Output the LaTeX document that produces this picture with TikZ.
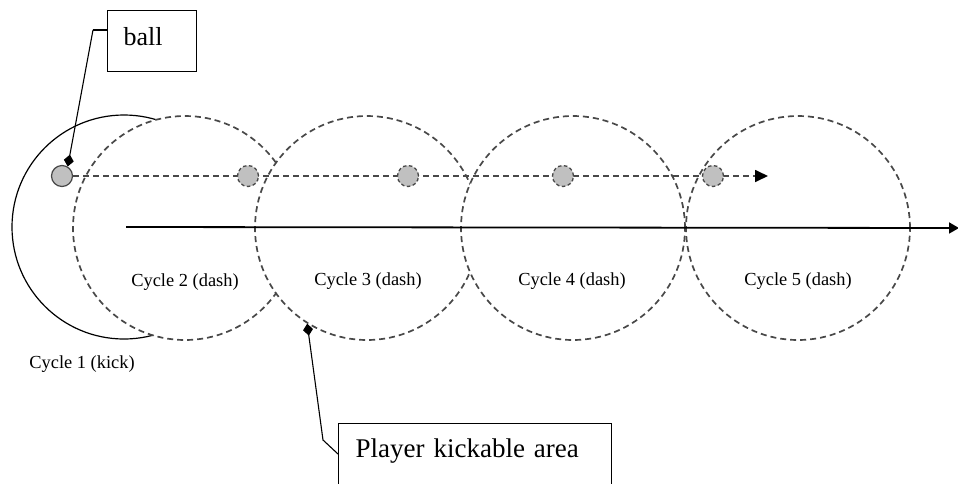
\documentclass[tikz,border=0pt]{standalone}
\usepackage{fontspec}
\setmainfont{Liberation Serif}
\usetikzlibrary{arrows.meta,calc}
\definecolor{dgray}{HTML}{484848}
\definecolor{ballgray}{HTML}{C0C0C0}
\begin{document}
\begin{tikzpicture}[x=1pt,y=-1pt,
  area/.style={circle, minimum size=224pt, inner sep=0pt, fill=white},
  dashline/.style={draw=dgray, line width=1.7pt, dash pattern=on 6pt off 4pt},
  ballnode/.style={circle, minimum size=21pt, inner sep=0pt, fill=ballgray},
  balldash/.style={draw=dgray, line width=1.3pt, dash pattern=on 3.5pt off 2.5pt},
  cyclelabel/.style={font=\fontsize{18.4}{20}\selectfont, anchor=base, inner sep=1pt},
  calloutbox/.style={draw, line width=1.1pt, fill=white, anchor=north west, align=left},
  callout/.style={draw, line width=1.1pt, -{Diamond[length=12pt,width=10pt]}}
]
\path (0,0) rectangle (958,483);
\clip (0,0) rectangle (958,483);

% kickable areas
\node[area, draw=black, line width=1.2pt] (c1) at (124,227) {};
\node[area, dashline] (c2) at (185,228) {};
\node[area, dashline] (c3) at (367,228) {};
\node[area, dashline] (c4) at (573,228) {};
\node[area, dashline] (c5) at (798,228) {};

% player movement axis
\coordinate (axisend) at (959,228);
\draw[line width=1.8pt, -{Triangle[length=10pt,width=11pt]}] ([xshift=2pt]c1.center) -- (axisend);

% ball trajectory
\node[ballnode, draw=dgray, line width=1.2pt] (b1) at (62,176) {};
\coordinate (trajend) at (768,176);
\draw[dashline, -{Triangle[length=13pt,width=12pt,color=black]}] (b1.east) -- (trajend);
\node[ballnode, balldash] (b2) at (248,176) {};
\node[ballnode, balldash] (b3) at (408,176) {};
\node[ballnode, balldash] (b4) at (563,176) {};
\node[ballnode, balldash] (b5) at (713,176) {};

% cycle labels
\node[cyclelabel] (l1) at (82,368) {Cycle 1 (kick)};
\node[cyclelabel] (l2) at (185,286) {Cycle 2 (dash)};
\node[cyclelabel] (l3) at (368,285) {Cycle 3 (dash)};
\node[cyclelabel] (l4) at (572,285) {Cycle 4 (dash)};
\node[cyclelabel] (l5) at (798,285) {Cycle 5 (dash)};

% callouts
\node[calloutbox, font=\fontsize{26}{30}\selectfont, text width=57pt, inner xsep=16pt, inner ysep=17pt, text depth=9pt] (ballbox) at (107,10) {ball};
\coordinate (ballbend) at (93,30);
\draw[line width=2.2pt] ([yshift=-20pt]ballbox.north west) -- (ballbend);
\draw[callout] (ballbend) -- (b1.59);

\node[calloutbox, font=\fontsize{27}{30}\selectfont, text width=239pt, inner xsep=17pt, inner ysep=15.6pt, text depth=45pt] (pkbox) at (338,423) {Player kickable area};
\coordinate (pkbend) at (323,440);
\draw[callout] ([yshift=-31pt]pkbox.north west) -- (pkbend) -- (c3.238);
\end{tikzpicture}
\end{document}
